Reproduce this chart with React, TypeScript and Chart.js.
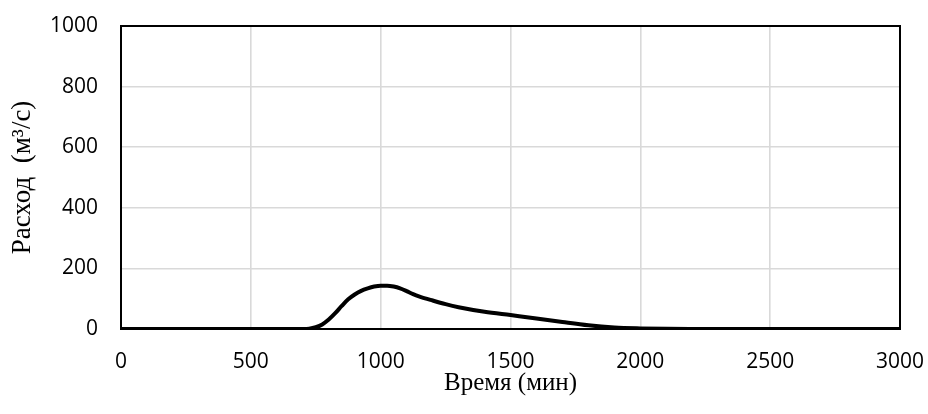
import React, { useEffect, useRef } from "react";
import { Chart, registerables } from "chart.js";

Chart.register(...registerables);

const timeMin = [0, 700, 725, 750, 775, 800, 825, 850, 875, 900, 925, 950, 975, 1000, 1025, 1050, 1075, 1100, 1125, 1150, 1200, 1250, 1300, 1400, 1500, 1600, 1700, 1800, 1900, 2000, 2100, 2200, 3000];
const flow = [0, 0, 1, 6, 15, 31, 52, 76, 98, 114, 126, 134, 140, 143, 143, 140, 134, 125, 115, 107, 94, 82, 72, 57, 46, 35, 23, 12, 5, 2, 0.5, 0, 0];

const xTitle = "Время (мин)";
const yTitle = "Расход  (м³/с)";

const borderPlugin = {
  id: "plotBorder",
  afterDatasetsDraw(chart: any) {
    const { ctx, chartArea } = chart;
    ctx.save();
    ctx.strokeStyle = "#000";
    ctx.lineWidth = 2;
    ctx.strokeRect(chartArea.left, chartArea.top, chartArea.right - chartArea.left, chartArea.bottom - chartArea.top);
    ctx.restore();
  },
};

export default function App() {
  const ref = useRef<HTMLCanvasElement | null>(null);
  useEffect(() => {
    document.body.style.margin = "0";
    const points = timeMin.map((t, i) => ({ x: t, y: flow[i] }));
    const chart = new Chart(ref.current as HTMLCanvasElement, {
      type: "scatter",
      data: {
        datasets: [
          {
            data: points,
            showLine: true,
            borderColor: "#000",
            borderWidth: 4,
            pointRadius: 0,
            cubicInterpolationMode: "monotone",
            fill: false,
          },
        ],
      },
      plugins: [borderPlugin],
      options: {
        animation: false,
        responsive: false,
        maintainAspectRatio: false,
        layout: { padding: { top: 26, right: 28, left: 0, bottom: 0 } },
        plugins: { legend: { display: false }, tooltip: { enabled: false } },
        scales: {
          x: {
            type: "linear",
            min: 0,
            max: 3000,
            ticks: { stepSize: 500, color: "#000", padding: 20, font: { family: "Open Sans", size: 21 }, maxRotation: 0, callback: (v: any) => String(v) },
            grid: { color: "#d9d9d9", lineWidth: 1.6, drawTicks: false },
            border: { display: false },
            title: { display: true, text: xTitle, color: "#000", font: { family: "Liberation Serif", size: 25 }, padding: { bottom: 16, top: 0 } },
            afterFit(scale: any) { scale.height = 85; scale.paddingLeft = 0; scale.paddingRight = 0; },
          },
          y: {
            min: 0,
            max: 1000,
            ticks: { stepSize: 200, color: "#000", padding: 23, font: { family: "Open Sans", size: 21 }, callback: (v: any) => String(v) },
            grid: { color: "#d9d9d9", lineWidth: 1.6, drawTicks: false },
            border: { display: false },
            title: { display: true, text: yTitle, color: "#000", font: { family: "Liberation Serif", size: 27 }, padding: { top: 7, bottom: 0 } },
            afterFit(scale: any) { scale.width = 121; scale.paddingTop = 0; scale.paddingBottom = 0; },
          },
        },
      },
    } as any);
    return () => chart.destroy();
  }, []);
  return (
    <div style={{ width: 928, height: 414, position: "relative" }}>
      <canvas ref={ref} width={928} height={414} style={{ display: "block" }} />
    </div>
  );
}
